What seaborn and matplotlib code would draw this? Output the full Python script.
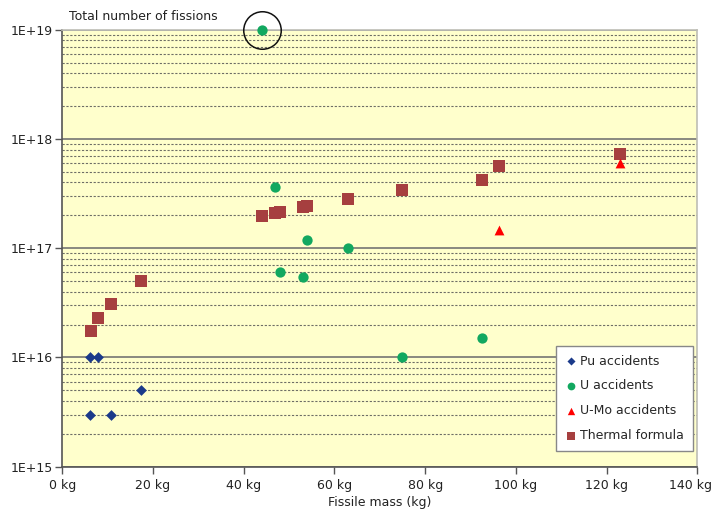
import numpy as np
import pandas as pd
import matplotlib
matplotlib.use("Agg")
import matplotlib.pyplot as plt
import matplotlib.transforms as mtransforms
from matplotlib.ticker import FixedLocator, LogLocator, NullFormatter
import seaborn as sns

# Fissile mass (kg) and total fissions for each series
pu_mass = [6.2, 7.9, 17.4, 6.2, 10.7]
pu_fissions = [1e16, 1e16, 5e15, 3e15, 3e15]

u_mass = [44.1, 47.0, 54.0, 63.0, 48.0, 53.0, 75.0, 92.5]
u_fissions = [1e19, 3.67e17, 1.19e17, 1e17, 6.0e16, 5.5e16, 1e16, 1.5e16]

umo_mass = [96.2, 123.0]
umo_fissions = [1.48e17, 6.0e17]

thermal_mass = [6.3, 7.9, 10.7, 17.4, 44.1, 47.0, 48.0, 53.0, 54.0, 63.0,
                75.0, 92.5, 96.2, 123.0]
thermal_fissions = [1.76e16, 2.28e16, 3.09e16, 4.98e16, 1.97e17, 2.11e17,
                    2.16e17, 2.36e17, 2.43e17, 2.84e17, 3.40e17, 4.21e17,
                    5.70e17, 7.22e17]

series_names = ["Pu accidents", "U accidents", "U-Mo accidents", "Thermal formula"]
x_ticks = [0, 20, 40, 60, 80, 100, 120, 140]
x_tick_labels = ["0 kg", "20 kg", "40 kg", "60 kg", "80 kg", "100 kg", "120 kg", "140 kg"]
y_ticks = [1e15, 1e16, 1e17, 1e18, 1e19]
y_tick_labels = ["1E+15", "1E+16", "1E+17", "1E+18", "1E+19"]

frames = []
for name, m, f in zip(series_names,
                      [pu_mass, u_mass, umo_mass, thermal_mass],
                      [pu_fissions, u_fissions, umo_fissions, thermal_fissions]):
    frames.append(pd.DataFrame({"mass": m, "fissions": f, "series": name}))
df = pd.concat(frames, ignore_index=True)

sns.set_theme(style="white")
plt.rcParams["font.family"] = ["DejaVu Sans"]

FS = 9

palette = {"Pu accidents": "#1B3A8A", "U accidents": "#12A860",
           "U-Mo accidents": "#FF0000", "Thermal formula": "#A63F3F"}
markers = {"Pu accidents": "D", "U accidents": "o",
           "U-Mo accidents": "^", "Thermal formula": "s"}
sizes = {"Pu accidents": 30, "U accidents": 55,
         "U-Mo accidents": 50, "Thermal formula": 72}

fig = plt.figure(figsize=(7.17, 5.11), dpi=100)
ax = fig.add_axes([0.0869, 0.0867, 0.8856, 0.8552])
ax.set_facecolor("#FFFFCC")

order = ["Thermal formula", "U accidents", "U-Mo accidents", "Pu accidents"]
for name in order:
    sub = df[df["series"] == name]
    sns.scatterplot(data=sub, x="mass", y="fissions", ax=ax,
                    color=palette[name], marker=markers[name], s=sizes[name],
                    linewidth=0, label=name, zorder=3, clip_on=False)

ax.set_yscale("log")
ax.set_xlim(0, 140)
ax.set_ylim(1e15, 1e19)

# Ring around the largest event
ax.plot([44.1], [1e19], marker="o", markersize=27, markerfacecolor="none",
        markeredgecolor="#111111", markeredgewidth=1.1, linestyle="none",
        clip_on=False, zorder=4)

ax.xaxis.set_major_locator(FixedLocator(x_ticks))
ax.set_xticklabels(x_tick_labels)
ax.yaxis.set_major_locator(FixedLocator(y_ticks))
ax.set_yticklabels(y_tick_labels)
ax.yaxis.set_minor_locator(LogLocator(base=10, subs=np.arange(2, 10)))
ax.yaxis.set_minor_formatter(NullFormatter())

ax.grid(False)
ax.grid(axis="y", which="major", color="#80807A", linewidth=1.3, linestyle="-", zorder=1)
ax.grid(axis="y", which="minor", color="#6E6E66", linewidth=0.8,
        linestyle=(0, (2, 1.5)), zorder=1)
ax.set_axisbelow(True)

ax.tick_params(axis="both", which="major", direction="out", length=5, width=1,
               color="#555555", labelsize=FS, labelcolor="#222222", pad=2,
               bottom=True, left=True)
ax.tick_params(axis="x", which="major", pad=4)
ax.tick_params(axis="y", which="minor", left=False)

# keep the last x label inside the figure
last = ax.get_xticklabels()[-1]
last.set_transform(last.get_transform() +
                   mtransforms.ScaledTranslation(-5 / 72, 0, fig.dpi_scale_trans))

for side in ["left", "bottom"]:
    ax.spines[side].set_color("#555555")
    ax.spines[side].set_linewidth(1.2)
for side in ["top", "right"]:
    ax.spines[side].set_color("#BDBDB5")
    ax.spines[side].set_linewidth(1.2)

ax.set_xlabel("Fissile mass (kg)", fontsize=FS, color="#222222", labelpad=3)
ax.set_ylabel("")
fig.text(0.096, 0.968, "Total number of fissions", fontsize=FS,
         color="#222222", ha="left", va="center")

handles, labels = ax.get_legend_handles_labels()
hmap = dict(zip(labels, handles))
leg = ax.legend([hmap[n] for n in series_names], series_names,
                loc="lower right", bbox_to_anchor=(0.9925, 0.036),
                fontsize=FS, frameon=True, fancybox=False, framealpha=1,
                edgecolor="#888888", markerscale=0.75, handletextpad=0.25,
                handlelength=1.0, labelspacing=0.95, borderpad=0.7,
                borderaxespad=0)
leg.get_frame().set_linewidth(1.0)
leg.set_zorder(5)

fig.savefig("out.png", dpi=100, facecolor="white")
